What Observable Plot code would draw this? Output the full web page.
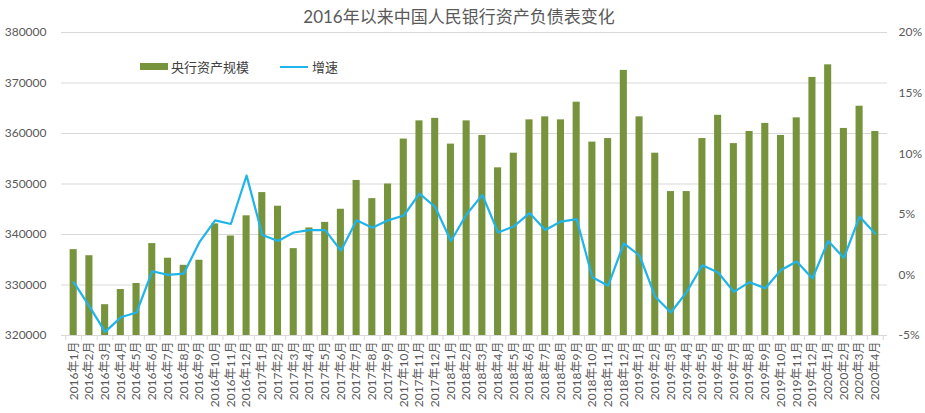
<!DOCTYPE html>
<html><head><meta charset="utf-8">
<script src="https://cdn.jsdelivr.net/npm/d3@7"></script>
<script src="https://cdn.jsdelivr.net/npm/@observablehq/plot@0.6"></script>
<style>
body{margin:0;background:#fff;font-family:Lato,"Noto Sans CJK SC",sans-serif;}
#wrap{position:relative;width:925px;height:413px;}
#title{position:absolute;left:0;width:918px;top:3px;text-align:center;font-size:17px;color:#595959;font-family:Lato,"Noto Sans CJK SC",sans-serif;}
#legend{position:absolute;top:57px;left:140px;font-size:13px;color:#404040;display:flex;align-items:center;font-family:"Noto Sans CJK SC",sans-serif;}
.sw{display:inline-block;}
</style></head><body>
<div id="wrap">
<div id="title">2016年以来中国人民银行资产负债表变化</div>
<div id="legend">
<span class="sw" style="width:28px;height:7px;background:#77933C;margin-right:3px"></span><span>央行资产规模</span>
<span class="sw" style="width:28px;height:2px;background:#1FB4EA;margin-left:31px;margin-right:4px"></span><span>增速</span>
</div>
</div>
<script>
const months = ["2016年1月","2016年2月","2016年3月","2016年4月","2016年5月","2016年6月","2016年7月","2016年8月","2016年9月","2016年10月","2016年11月","2016年12月",
"2017年1月","2017年2月","2017年3月","2017年4月","2017年5月","2017年6月","2017年7月","2017年8月","2017年9月","2017年10月","2017年11月","2017年12月",
"2018年1月","2018年2月","2018年3月","2018年4月","2018年5月","2018年6月","2018年7月","2018年8月","2018年9月","2018年10月","2018年11月","2018年12月",
"2019年1月","2019年2月","2019年3月","2019年4月","2019年5月","2019年6月","2019年7月","2019年8月","2019年9月","2019年10月","2019年11月","2019年12月",
"2020年1月","2020年2月","2020年3月","2020年4月"];
const assets = [337000,335800,326100,329100,330300,338200,335300,333900,334900,342100,339700,343700,
348300,345600,337200,341300,342400,345000,350700,347100,350000,358900,362500,363000,
357900,362500,359600,353200,356100,362700,363300,362700,366200,358300,359000,372500,
363300,356100,348500,348500,359000,363600,358000,360400,362000,359600,363100,371100,
373600,361000,365400,360400];
const growth = [-0.6,-2.6,-4.7,-3.5,-3.1,0.3,0.0,0.1,2.7,4.5,4.2,8.2,
3.3,2.8,3.5,3.7,3.7,2.0,4.5,3.9,4.5,4.9,6.7,5.6,
2.8,5.0,6.6,3.5,4.0,5.1,3.7,4.4,4.6,-0.2,-0.9,2.6,
1.6,-1.8,-3.1,-1.4,0.8,0.2,-1.4,-0.6,-1.1,0.4,1.1,-0.3,
2.8,1.4,4.8,3.4];
const leftTicks = [320000,330000,340000,350000,360000,370000,380000];
const rightTicks = [-5,0,5,10,15,20];

// map right-axis percent onto the left (y) scale domain
const toY = p => 320000 + (p + 5) * 2400;
const fromY = v => (v - 320000) / 2400 - 5;

const data = months.map((m, i) => ({month: m, asset: assets[i], g: growth[i]}));
const W = 925, mL = 61, mR = 38;
const step = (W - mL - mR) / months.length;

const chart = Plot.plot({
  width: W, height: 413,
  marginTop: 32, marginBottom: 78, marginLeft: mL, marginRight: mR,
  style: {fontFamily: 'Lato, "Noto Sans CJK SC", sans-serif', color: "#595959", background: "transparent"},
  x: {type: "band", domain: months, padding: 0.55, align: 0.5},
  y: {domain: [320000, 380000]},
  marks: [
    Plot.ruleY(leftTicks, {stroke: "#D9D9D9", strokeWidth: 1}),
    Plot.barY(data, {x: "month", y1: 320000, y2: "asset", fill: "#77933C"}),
    Plot.line(data, {x: "month", y: d => toY(d.g), stroke: "#1FB4EA", strokeWidth: 2.2, curve: "linear"}),
    Plot.axisY({anchor: "left", ticks: leftTicks, tickSize: 0, tickPadding: 15, fontSize: 12, label: null, tickFormat: d => String(d), fill: "#595959"}),
    Plot.axisY({anchor: "right", ticks: rightTicks.map(toY), tickSize: 0, tickPadding: 11, fontSize: 12, label: null, textAnchor: "start", tickFormat: v => Math.round(fromY(v)) + "%", fill: "#595959"}),
    Plot.axisX({ticks: months, tickSize: 0, tickPadding: 6, tickRotate: -90, fontSize: 12, label: null, fill: "#595959"}),
    Plot.axisX({ticks: months, tickSize: 5, tickFormat: () => "", label: null, dx: -step / 2, stroke: "#D9D9D9"}),
    Plot.axisX({ticks: months.slice(-1), tickSize: 5, tickFormat: () => "", label: null, dx: step / 2, stroke: "#D9D9D9"})
  ]
});
document.getElementById("wrap").prepend(chart);
chart.style.position = "absolute";
chart.style.left = "0";
chart.style.top = "0";
</script>
</body></html>
